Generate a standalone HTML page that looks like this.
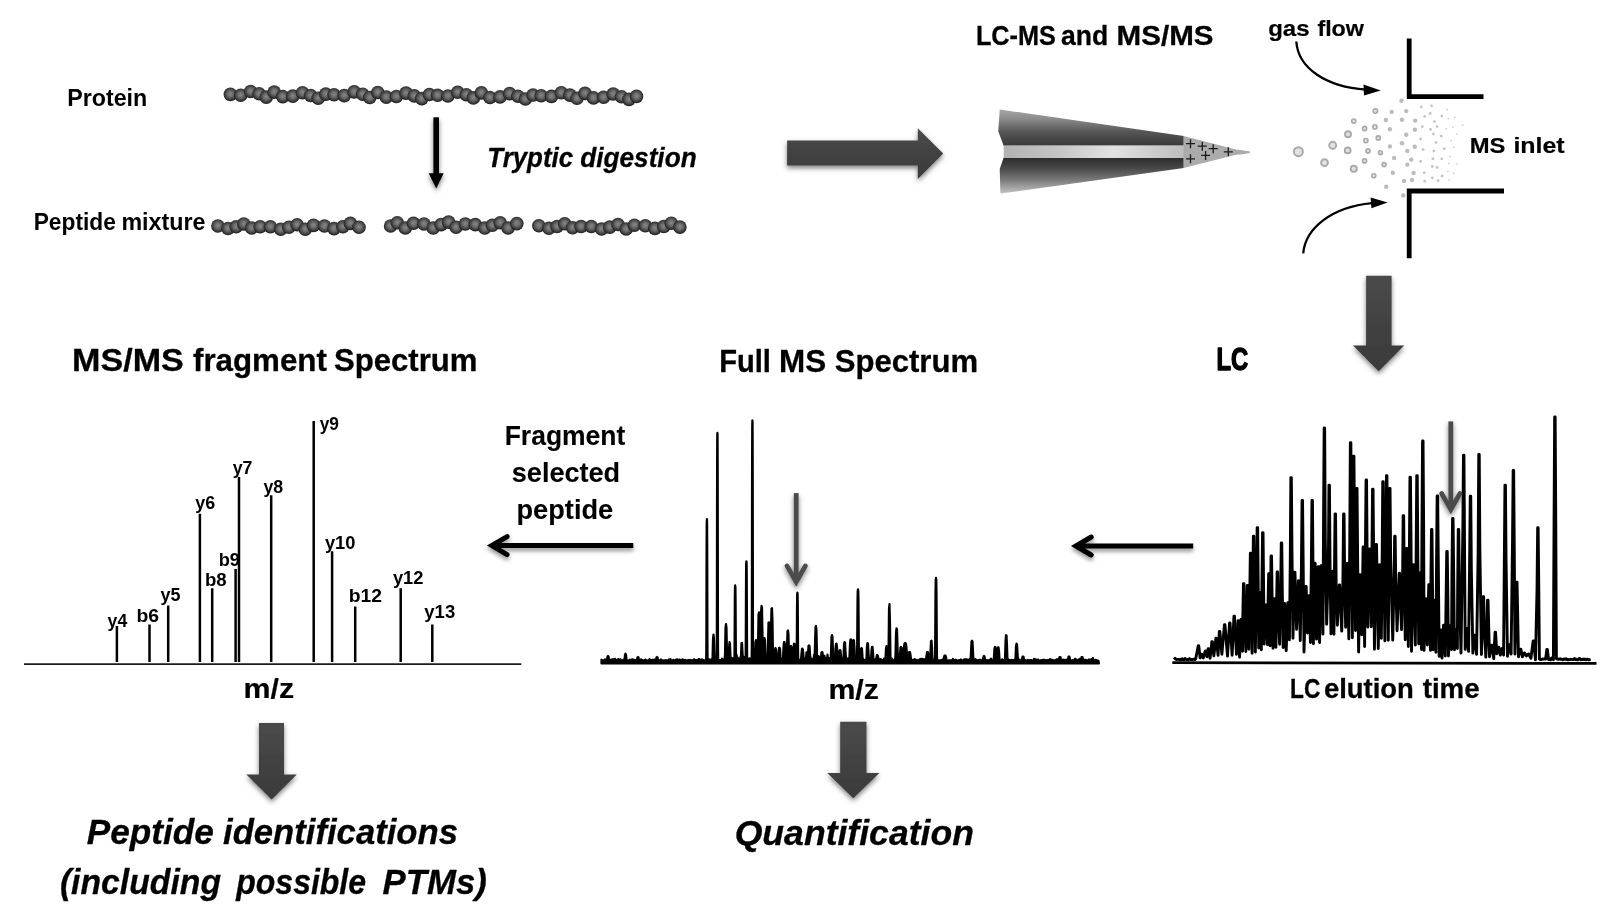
<!DOCTYPE html>
<html lang="en"><head><meta charset="utf-8"><title>LC-MS/MS proteomics workflow</title>
<style>html,body{margin:0;padding:0;background:#fff;overflow:hidden}svg{display:block;will-change:transform}text{font-family:"Liberation Sans",sans-serif}</style></head>
<body>
<svg width="1609" height="911" viewBox="0 0 1609 911">
<rect width="1609" height="911" fill="#fff"/>
<defs>
<filter id="sh" x="-30%" y="-30%" width="160%" height="170%"><feDropShadow dx="0" dy="2.6" stdDeviation="2.5" flood-color="#000" flood-opacity="0.5"/></filter>
<filter id="sh2" x="-30%" y="-60%" width="160%" height="260%"><feDropShadow dx="0" dy="3" stdDeviation="2" flood-color="#000" flood-opacity="0.42"/></filter>
<filter id="fz" x="-10%" y="-40%" width="120%" height="180%"><feGaussianBlur stdDeviation="0.55"/></filter>
<linearGradient id="ga" x1="0" y1="0" x2="0" y2="1"><stop offset="0" stop-color="#4a4a4a"/><stop offset="1" stop-color="#3a3a3a"/></linearGradient>
<linearGradient id="gb" x1="0" y1="0" x2="1" y2="0"><stop offset="0" stop-color="#3c3c3c"/><stop offset="0.5" stop-color="#454545"/><stop offset="1" stop-color="#3c3c3c"/></linearGradient>
<radialGradient id="bead" cx="0.5" cy="0.47" r="0.53"><stop offset="0" stop-color="#888"/><stop offset="0.4" stop-color="#6a6a6a"/><stop offset="0.74" stop-color="#414141"/><stop offset="1" stop-color="#181818"/></radialGradient>
<linearGradient id="nt" gradientUnits="userSpaceOnUse" x1="0" y1="109" x2="0" y2="146"><stop offset="0" stop-color="#a8a8a8"/><stop offset="0.3" stop-color="#878787"/><stop offset="0.62" stop-color="#565656"/><stop offset="1" stop-color="#383838"/></linearGradient>
<linearGradient id="nb" gradientUnits="userSpaceOnUse" x1="0" y1="158" x2="0" y2="194"><stop offset="0" stop-color="#2c2c2c"/><stop offset="0.3" stop-color="#4a4a4a"/><stop offset="0.62" stop-color="#7c7c7c"/><stop offset="1" stop-color="#c6c6c6"/></linearGradient>
<linearGradient id="nc" gradientUnits="userSpaceOnUse" x1="1003" y1="0" x2="1186" y2="0"><stop offset="0" stop-color="#b2b2b2"/><stop offset="0.3" stop-color="#c4c4c4"/><stop offset="0.6" stop-color="#e2e2e2"/><stop offset="1" stop-color="#bcbcbc"/></linearGradient>
</defs>
<text y="105.5" font-size="23" font-weight="bold" fill="#000"><tspan x="67.2" textLength="80" lengthAdjust="spacingAndGlyphs">Protein</tspan></text>
<text y="230.3" font-size="23" font-weight="bold" fill="#000"><tspan x="33.7" textLength="82.2" lengthAdjust="spacingAndGlyphs">Peptide</tspan> <tspan x="121.4" textLength="84" lengthAdjust="spacingAndGlyphs">mixture</tspan></text>
<text y="167.1" font-size="27.2" font-weight="bold" font-style="italic" stroke="#000" stroke-width="0.3" stroke-linejoin="round" fill="#000"><tspan x="487.3" textLength="85.8" lengthAdjust="spacingAndGlyphs">Tryptic</tspan> <tspan x="580.2" textLength="116.5" lengthAdjust="spacingAndGlyphs">digestion</tspan></text>
<text y="45.3" font-size="27.3" font-weight="bold" stroke="#000" stroke-width="0.3" stroke-linejoin="round" fill="#000"><tspan x="975.9" textLength="80" lengthAdjust="spacingAndGlyphs">LC-MS</tspan> <tspan x="1061.1" textLength="47.2" lengthAdjust="spacingAndGlyphs">and</tspan> <tspan x="1116.6" textLength="96.9" lengthAdjust="spacingAndGlyphs">MS/MS</tspan></text>
<text y="36.4" font-size="22.8" font-weight="bold" stroke="#000" stroke-width="0.2" stroke-linejoin="round" fill="#000"><tspan x="1268.2" textLength="41.4" lengthAdjust="spacingAndGlyphs">gas</tspan> <tspan x="1317.4" textLength="46.6" lengthAdjust="spacingAndGlyphs">flow</tspan></text>
<text y="152.6" font-size="22.6" font-weight="bold" stroke="#000" stroke-width="0.2" stroke-linejoin="round" fill="#000"><tspan x="1469.7" textLength="35.7" lengthAdjust="spacingAndGlyphs">MS</tspan> <tspan x="1513.4" textLength="51.3" lengthAdjust="spacingAndGlyphs">inlet</tspan></text>
<text y="370.8" font-size="31" font-weight="bold" stroke="#000" stroke-width="0.3" stroke-linejoin="round" fill="#000"><tspan x="72.1" textLength="111.7" lengthAdjust="spacingAndGlyphs">MS/MS</tspan> <tspan x="193" textLength="133.9" lengthAdjust="spacingAndGlyphs">fragment</tspan> <tspan x="334" textLength="143.4" lengthAdjust="spacingAndGlyphs">Spectrum</tspan></text>
<text y="371.9" font-size="32" font-weight="bold" stroke="#000" stroke-width="0.3" stroke-linejoin="round" fill="#000"><tspan x="719.2" textLength="51.7" lengthAdjust="spacingAndGlyphs">Full</tspan> <tspan x="779" textLength="47.1" lengthAdjust="spacingAndGlyphs">MS</tspan> <tspan x="834.7" textLength="143.4" lengthAdjust="spacingAndGlyphs">Spectrum</tspan></text>
<text y="370.3" font-size="30.8" font-weight="bold" stroke="#000" stroke-width="1.4" stroke-linejoin="round" fill="#000"><tspan x="1216.5" textLength="31.7" lengthAdjust="spacingAndGlyphs">LC</tspan></text>
<text y="445" font-size="27.3" font-weight="bold" stroke="#000" stroke-width="0.1" stroke-linejoin="round" fill="#000"><tspan x="504.7" textLength="120.6" lengthAdjust="spacingAndGlyphs">Fragment</tspan></text>
<text y="482.3" font-size="27.3" font-weight="bold" stroke="#000" stroke-width="0.1" stroke-linejoin="round" fill="#000"><tspan x="511.8" textLength="108.3" lengthAdjust="spacingAndGlyphs">selected</tspan></text>
<text y="519.3" font-size="27.3" font-weight="bold" stroke="#000" stroke-width="0.1" stroke-linejoin="round" fill="#000"><tspan x="516.5" textLength="96.7" lengthAdjust="spacingAndGlyphs">peptide</tspan></text>
<text y="698.4" font-size="27.6" font-weight="bold" stroke="#000" stroke-width="0.2" stroke-linejoin="round" fill="#000"><tspan x="243.5" textLength="50.6" lengthAdjust="spacingAndGlyphs">m/z</tspan></text>
<text y="698.5" font-size="27.6" font-weight="bold" stroke="#000" stroke-width="0.2" stroke-linejoin="round" fill="#000"><tspan x="828.4" textLength="50.5" lengthAdjust="spacingAndGlyphs">m/z</tspan></text>
<text y="698.2" font-size="28" font-weight="bold" stroke="#000" stroke-width="0.3" stroke-linejoin="round" fill="#000"><tspan x="1290" textLength="30.3" lengthAdjust="spacingAndGlyphs">LC</tspan> <tspan x="1323.9" textLength="89.9" lengthAdjust="spacingAndGlyphs">elution</tspan> <tspan x="1422.7" textLength="57" lengthAdjust="spacingAndGlyphs">time</tspan></text>
<text y="844.2" font-size="34.3" font-weight="bold" font-style="italic" stroke="#000" stroke-width="0.3" stroke-linejoin="round" fill="#000"><tspan x="86.7" textLength="127.2" lengthAdjust="spacingAndGlyphs">Peptide</tspan> <tspan x="223" textLength="235" lengthAdjust="spacingAndGlyphs">identifications</tspan></text>
<text y="894" font-size="34.3" font-weight="bold" font-style="italic" stroke="#000" stroke-width="0.3" stroke-linejoin="round" fill="#000"><tspan x="59.9" textLength="161.1" lengthAdjust="spacingAndGlyphs">(including</tspan> <tspan x="236.3" textLength="129.7" lengthAdjust="spacingAndGlyphs">possible</tspan> <tspan x="382.6" textLength="104.2" lengthAdjust="spacingAndGlyphs">PTMs)</tspan></text>
<text y="845" font-size="35.4" font-weight="bold" font-style="italic" stroke="#000" stroke-width="0.3" stroke-linejoin="round" fill="#000"><tspan x="734.7" textLength="239.2" lengthAdjust="spacingAndGlyphs">Quantification</tspan></text>
<line x1="24" y1="664.05" x2="521.3" y2="664.05" stroke="#1c1c1c" stroke-width="1.7"/>
<path d="M116.9 661.9V626M149.5 661.9V624.4M168.2 661.9V605.4M199.9 661.9V513.8M212.2 661.9V588.2M235.6 661.9V569.1M239 661.9V476.9M271.2 661.9V495.3M313.7 661.9V420.9M332.1 661.9V551.3M355.2 661.9V606.6M400.7 661.9V588.2M432.3 661.9V624.4" stroke="#000" stroke-width="2.5" fill="none"/>
<text y="627" font-size="19" font-weight="bold" fill="#000"><tspan x="107.6" textLength="19.6" lengthAdjust="spacingAndGlyphs">y4</tspan></text>
<text y="622.4" font-size="19" font-weight="bold" fill="#000"><tspan x="136.5" textLength="22.6" lengthAdjust="spacingAndGlyphs">b6</tspan></text>
<text y="600.9" font-size="19" font-weight="bold" fill="#000"><tspan x="160.5" textLength="20" lengthAdjust="spacingAndGlyphs">y5</tspan></text>
<text y="508.6" font-size="19" font-weight="bold" fill="#000"><tspan x="195.2" textLength="19.9" lengthAdjust="spacingAndGlyphs">y6</tspan></text>
<text y="585.5" font-size="19" font-weight="bold" fill="#000"><tspan x="204.9" textLength="21.7" lengthAdjust="spacingAndGlyphs">b8</tspan></text>
<text y="565.5" font-size="19" font-weight="bold" fill="#000"><tspan x="218.7" textLength="21.3" lengthAdjust="spacingAndGlyphs">b9</tspan></text>
<text y="474.2" font-size="19" font-weight="bold" fill="#000"><tspan x="232.7" textLength="19.7" lengthAdjust="spacingAndGlyphs">y7</tspan></text>
<text y="493.3" font-size="19" font-weight="bold" fill="#000"><tspan x="263.5" textLength="19.7" lengthAdjust="spacingAndGlyphs">y8</tspan></text>
<text y="430.2" font-size="19" font-weight="bold" fill="#000"><tspan x="319.7" textLength="19.3" lengthAdjust="spacingAndGlyphs">y9</tspan></text>
<text y="549.2" font-size="19" font-weight="bold" fill="#000"><tspan x="324.9" textLength="30.5" lengthAdjust="spacingAndGlyphs">y10</tspan></text>
<text y="602.4" font-size="19" font-weight="bold" fill="#000"><tspan x="348.7" textLength="33.3" lengthAdjust="spacingAndGlyphs">b12</tspan></text>
<text y="584" font-size="19" font-weight="bold" fill="#000"><tspan x="392.9" textLength="30.6" lengthAdjust="spacingAndGlyphs">y12</tspan></text>
<text y="618.4" font-size="19" font-weight="bold" fill="#000"><tspan x="424.3" textLength="30.9" lengthAdjust="spacingAndGlyphs">y13</tspan></text>
<path filter="url(#sh)" fill="url(#ga)" d="M259 722.9H284V774.5H296.8L271.6 799.6L246.4 774.5H259Z"/>
<path filter="url(#sh)" fill="url(#ga)" d="M840.2 721.8H866.5V773H879.4L853.3 798.3L827.3 773H840.2Z"/>
<path filter="url(#sh)" fill="url(#ga)" d="M1366.1 275.7H1391.6V345.5H1404.3L1378.7 371.2L1353 345.5H1366.1Z"/>
<path filter="url(#sh)" fill="url(#ga)" d="M787.1 140.6H917.8V128.3L943.2 153.6L917.8 179V165.6H787.1Z"/>
<g filter="url(#sh)"><path d="M436.2 117.3V176" stroke="#000" stroke-width="5.6" fill="none"/><path d="M428.7 173.2H443.7L436.2 188.6Z" fill="#000"/></g>
<g filter="url(#sh2)" stroke="#000" stroke-width="5" fill="none" stroke-linecap="round" stroke-linejoin="miter"><path d="M633.3 545.6H492.6" stroke-linecap="butt"/><path d="M507.1 536.6L491.8 545.6L507.1 554.6"/></g>
<g filter="url(#sh2)" stroke="#000" stroke-width="5" fill="none" stroke-linecap="round" stroke-linejoin="miter"><path d="M1193.2 546H1076.7" stroke-linecap="butt"/><path d="M1091.2 537L1075.9 546L1091.2 555"/></g>
<path d="M1409.2 38.5V96.7H1483.5M1504 191H1409.2V258.2" stroke="#000" stroke-width="4.8" fill="none"/>
<path d="M1296.3 41.5C1298 68 1326 87 1366 89.6" stroke="#000" stroke-width="2.3" fill="none"/>
<path d="M1380.8 90.4L1363.5 84.6L1364 95.4Z" fill="#000"/>
<path d="M1303.2 253.4C1305.5 228 1332 207 1372 203.2" stroke="#000" stroke-width="2.3" fill="none"/>
<path d="M1387.6 202.4L1370.6 197.4L1371.4 208.2Z" fill="#000"/>
<g filter="url(#fz)"><circle cx="230.4" cy="94.4" r="6.8" fill="url(#bead)"/><circle cx="240.7" cy="95.2" r="6.8" fill="url(#bead)"/><circle cx="250.6" cy="91.5" r="6.8" fill="url(#bead)"/><circle cx="259.1" cy="93.8" r="6.8" fill="url(#bead)"/><circle cx="266.3" cy="97.1" r="6.8" fill="url(#bead)"/><circle cx="274.2" cy="92.1" r="6.8" fill="url(#bead)"/><circle cx="282.7" cy="96.6" r="6.8" fill="url(#bead)"/><circle cx="292.8" cy="96.1" r="6.8" fill="url(#bead)"/><circle cx="302.5" cy="92.7" r="6.8" fill="url(#bead)"/><circle cx="310.7" cy="95.5" r="6.8" fill="url(#bead)"/><circle cx="318.2" cy="98.2" r="6.8" fill="url(#bead)"/><circle cx="325.8" cy="94.1" r="6.8" fill="url(#bead)"/><circle cx="334" cy="94.8" r="6.8" fill="url(#bead)"/><circle cx="344.3" cy="95.6" r="6.8" fill="url(#bead)"/><circle cx="354.2" cy="91.9" r="6.8" fill="url(#bead)"/><circle cx="362.7" cy="94.3" r="6.8" fill="url(#bead)"/><circle cx="369.8" cy="97.5" r="6.8" fill="url(#bead)"/><circle cx="377.8" cy="92.5" r="6.8" fill="url(#bead)"/><circle cx="386.3" cy="97.1" r="6.8" fill="url(#bead)"/><circle cx="396.4" cy="96.5" r="6.8" fill="url(#bead)"/><circle cx="406" cy="93.1" r="6.8" fill="url(#bead)"/><circle cx="414.3" cy="95.9" r="6.8" fill="url(#bead)"/><circle cx="421.8" cy="98.6" r="6.8" fill="url(#bead)"/><circle cx="429.4" cy="94.5" r="6.8" fill="url(#bead)"/><circle cx="437.6" cy="95.3" r="6.8" fill="url(#bead)"/><circle cx="447.9" cy="96" r="6.8" fill="url(#bead)"/><circle cx="457.7" cy="92.3" r="6.8" fill="url(#bead)"/><circle cx="466.3" cy="94.7" r="6.8" fill="url(#bead)"/><circle cx="473.4" cy="97.9" r="6.8" fill="url(#bead)"/><circle cx="481.4" cy="92.9" r="6.8" fill="url(#bead)"/><circle cx="489.9" cy="97.5" r="6.8" fill="url(#bead)"/><circle cx="500" cy="96.9" r="6.8" fill="url(#bead)"/><circle cx="509.6" cy="93.6" r="6.8" fill="url(#bead)"/><circle cx="517.9" cy="96.3" r="6.8" fill="url(#bead)"/><circle cx="525.4" cy="99" r="6.8" fill="url(#bead)"/><circle cx="533" cy="95" r="6.8" fill="url(#bead)"/><circle cx="541.2" cy="95.7" r="6.8" fill="url(#bead)"/><circle cx="551.5" cy="96.4" r="6.8" fill="url(#bead)"/><circle cx="561.3" cy="92.8" r="6.8" fill="url(#bead)"/><circle cx="569.9" cy="95.1" r="6.8" fill="url(#bead)"/><circle cx="577" cy="98.3" r="6.8" fill="url(#bead)"/><circle cx="585" cy="93.4" r="6.8" fill="url(#bead)"/><circle cx="593.5" cy="97.9" r="6.8" fill="url(#bead)"/><circle cx="603.6" cy="97.3" r="6.8" fill="url(#bead)"/><circle cx="613.2" cy="94" r="6.8" fill="url(#bead)"/><circle cx="621.5" cy="96.7" r="6.8" fill="url(#bead)"/><circle cx="629" cy="99.4" r="6.8" fill="url(#bead)"/><circle cx="636.5" cy="96.4" r="6.8" fill="url(#bead)"/></g>
<g filter="url(#fz)"><circle cx="217.9" cy="226" r="6.8" fill="url(#bead)"/><circle cx="228" cy="228.5" r="6.8" fill="url(#bead)"/><circle cx="236.2" cy="226.7" r="6.8" fill="url(#bead)"/><circle cx="243.8" cy="224" r="6.8" fill="url(#bead)"/><circle cx="251.7" cy="228" r="6.8" fill="url(#bead)"/><circle cx="260.2" cy="226.7" r="6.8" fill="url(#bead)"/><circle cx="270.4" cy="226.7" r="6.8" fill="url(#bead)"/><circle cx="280.7" cy="229.2" r="6.8" fill="url(#bead)"/><circle cx="288.9" cy="227.3" r="6.8" fill="url(#bead)"/><circle cx="297.1" cy="224.7" r="6.8" fill="url(#bead)"/><circle cx="305.3" cy="229.2" r="6.8" fill="url(#bead)"/><circle cx="313.5" cy="225.4" r="6.8" fill="url(#bead)"/><circle cx="324.4" cy="226" r="6.8" fill="url(#bead)"/><circle cx="334" cy="228.6" r="6.8" fill="url(#bead)"/><circle cx="342.9" cy="226.7" r="6.8" fill="url(#bead)"/><circle cx="350.4" cy="223.4" r="6.8" fill="url(#bead)"/><circle cx="359" cy="227.3" r="6.8" fill="url(#bead)"/></g>
<g filter="url(#fz)"><circle cx="390.6" cy="226" r="6.8" fill="url(#bead)"/><circle cx="397.3" cy="222.8" r="6.8" fill="url(#bead)"/><circle cx="405.3" cy="228" r="6.8" fill="url(#bead)"/><circle cx="413.5" cy="223.3" r="6.8" fill="url(#bead)"/><circle cx="424" cy="224" r="6.8" fill="url(#bead)"/><circle cx="433.2" cy="228" r="6.8" fill="url(#bead)"/><circle cx="441.1" cy="224.6" r="6.8" fill="url(#bead)"/><circle cx="448.6" cy="222.1" r="6.8" fill="url(#bead)"/><circle cx="456.1" cy="227.3" r="6.8" fill="url(#bead)"/><circle cx="465.3" cy="224" r="6.8" fill="url(#bead)"/><circle cx="475.3" cy="224.6" r="6.8" fill="url(#bead)"/><circle cx="484.8" cy="228" r="6.8" fill="url(#bead)"/><circle cx="492.4" cy="225.3" r="6.8" fill="url(#bead)"/><circle cx="500.2" cy="222.7" r="6.8" fill="url(#bead)"/><circle cx="508.1" cy="228" r="6.8" fill="url(#bead)"/><circle cx="516.8" cy="223.6" r="6.8" fill="url(#bead)"/></g>
<g filter="url(#fz)"><circle cx="538.8" cy="225.8" r="6.8" fill="url(#bead)"/><circle cx="548.9" cy="228.3" r="6.8" fill="url(#bead)"/><circle cx="557.1" cy="226.5" r="6.8" fill="url(#bead)"/><circle cx="564.7" cy="223.8" r="6.8" fill="url(#bead)"/><circle cx="572.6" cy="227.8" r="6.8" fill="url(#bead)"/><circle cx="581.1" cy="226.5" r="6.8" fill="url(#bead)"/><circle cx="591.3" cy="226.5" r="6.8" fill="url(#bead)"/><circle cx="601.6" cy="229" r="6.8" fill="url(#bead)"/><circle cx="609.8" cy="227.1" r="6.8" fill="url(#bead)"/><circle cx="618" cy="224.5" r="6.8" fill="url(#bead)"/><circle cx="626.2" cy="229" r="6.8" fill="url(#bead)"/><circle cx="634.4" cy="225.2" r="6.8" fill="url(#bead)"/><circle cx="645.3" cy="225.8" r="6.8" fill="url(#bead)"/><circle cx="654.9" cy="228.4" r="6.8" fill="url(#bead)"/><circle cx="663.8" cy="226.5" r="6.8" fill="url(#bead)"/><circle cx="671.3" cy="223.2" r="6.8" fill="url(#bead)"/><circle cx="679.9" cy="227.1" r="6.8" fill="url(#bead)"/></g>
<path d="M999.7 109.5L1183.8 136.1V145.8H1003.7L998.3 131.5Z" fill="url(#nt)"/>
<path d="M1003.7 157.6H1183.8V168L1000.4 193.6L999.7 169Z" fill="url(#nb)"/>
<path d="M1003.7 145.4H1184V158H1003.7Z" fill="url(#nc)"/>
<path d="M1183.6 136.1L1236 149.6Q1251 151.2 1250.4 152.3Q1251 153.6 1236 154.8L1183.6 168Z" fill="#ababab"/>
<path d="M1186 143.7h9M1190.5 139.2v9M1197.8 146.2h9M1202.3 141.7v9M1208.7 148.7h9M1213.2 144.2v9M1223.8 151.8h9M1228.3 147.3v9M1201.1 155.4h9M1205.6 150.9v9M1186 158.8h9M1190.5 154.3v9" stroke="#1a1a1a" stroke-width="1.3" fill="none"/>
<circle cx="1298.4" cy="151.7" r="4.5" fill="#e2e2e2" stroke="#a9a9a9" stroke-width="1.9"/>
<circle cx="1332.7" cy="145.3" r="3.5" fill="#e2e2e2" stroke="#a9a9a9" stroke-width="1.9"/>
<circle cx="1324.5" cy="162.7" r="3.4" fill="#e2e2e2" stroke="#a9a9a9" stroke-width="1.9"/>
<circle cx="1348" cy="134.3" r="3" fill="#e2e2e2" stroke="#a9a9a9" stroke-width="1.9"/>
<circle cx="1347.7" cy="150.4" r="2.9" fill="#e2e2e2" stroke="#a9a9a9" stroke-width="1.9"/>
<circle cx="1353.8" cy="168.8" r="3.1" fill="#e2e2e2" stroke="#a9a9a9" stroke-width="1.9"/>
<circle cx="1353.8" cy="121.1" r="2.1" fill="#e2e2e2" stroke="#a9a9a9" stroke-width="1.6"/>
<circle cx="1364.6" cy="128.5" r="2.1" fill="#e2e2e2" stroke="#a9a9a9" stroke-width="1.6"/>
<circle cx="1365.9" cy="140.6" r="2.1" fill="#e2e2e2" stroke="#a9a9a9" stroke-width="1.6"/>
<circle cx="1368" cy="150.9" r="2" fill="#e2e2e2" stroke="#a9a9a9" stroke-width="1.6"/>
<circle cx="1364.6" cy="160.9" r="2" fill="#e2e2e2" stroke="#a9a9a9" stroke-width="1.6"/>
<circle cx="1373.8" cy="175.7" r="2" fill="#e2e2e2" stroke="#a9a9a9" stroke-width="1.6"/>
<circle cx="1375.4" cy="111.1" r="2.2" fill="#e2e2e2" stroke="#a9a9a9" stroke-width="1.6"/>
<circle cx="1374.9" cy="126.9" r="2.1" fill="#e2e2e2" stroke="#a9a9a9" stroke-width="1.6"/>
<circle cx="1378.3" cy="138" r="2.1" fill="#e2e2e2" stroke="#a9a9a9" stroke-width="1.6"/>
<circle cx="1380.4" cy="152.7" r="1.9" fill="#e2e2e2" stroke="#a9a9a9" stroke-width="1.6"/>
<circle cx="1384.1" cy="164.6" r="2" fill="#e2e2e2" stroke="#a9a9a9" stroke-width="1.6"/>
<g fill="#bcbcbc"><circle cx="1391.7" cy="111.9" r="2.2"/><circle cx="1385.9" cy="120" r="2.2"/><circle cx="1389.9" cy="129.3" r="2.2"/><circle cx="1389.9" cy="146.4" r="2.2"/><circle cx="1394.1" cy="158" r="2.2"/><circle cx="1392.8" cy="172.8" r="2.2"/><circle cx="1386.2" cy="186.7" r="2.2"/><circle cx="1401.5" cy="100.8" r="2.2"/><circle cx="1406.2" cy="111.1" r="2.2"/><circle cx="1402" cy="119.8" r="2.2"/><circle cx="1406.2" cy="134.8" r="2.2"/><circle cx="1402" cy="143.2" r="2.2"/><circle cx="1407.3" cy="150.9" r="2.2"/><circle cx="1411.2" cy="159.6" r="2.2"/><circle cx="1407.3" cy="164.6" r="2.2"/><circle cx="1413.6" cy="173" r="2.2"/><circle cx="1412" cy="179.9" r="2.2"/><circle cx="1404.1" cy="180.9" r="2.2"/><circle cx="1403.3" cy="195.4" r="2.2"/><circle cx="1415.2" cy="120.6" r="2.2"/><circle cx="1414.9" cy="129.8" r="2.2"/><circle cx="1414.7" cy="146.7" r="2.2"/></g>
<g fill="#c4c4c4"><circle cx="1421.3" cy="106.9" r="1.4"/><circle cx="1431.5" cy="105.8" r="1.4"/><circle cx="1424.7" cy="116.4" r="1.4"/><circle cx="1430.2" cy="113.5" r="1.4"/><circle cx="1422.3" cy="126.6" r="1.4"/><circle cx="1420.7" cy="139" r="1.4"/><circle cx="1423.1" cy="149.6" r="1.4"/><circle cx="1420.7" cy="161.4" r="1.4"/><circle cx="1424.2" cy="172.8" r="1.4"/><circle cx="1424.7" cy="181.2" r="1.4"/><circle cx="1430.5" cy="129.5" r="1.4"/><circle cx="1434.4" cy="121.6" r="1.4"/><circle cx="1433.4" cy="134" r="1.4"/><circle cx="1436" cy="142.4" r="1.4"/><circle cx="1433.9" cy="151.1" r="1.4"/><circle cx="1432.9" cy="158.8" r="1.4"/><circle cx="1432.3" cy="166.4" r="1.4"/><circle cx="1432.3" cy="177.8" r="1.4"/><circle cx="1441.8" cy="116.1" r="1.4"/><circle cx="1437.1" cy="126.6" r="1.4"/><circle cx="1441.3" cy="136.1" r="1.4"/><circle cx="1444.2" cy="148.8" r="1.4"/><circle cx="1441.8" cy="158.8" r="1.4"/><circle cx="1437.1" cy="167.5" r="1.4"/><circle cx="1442.1" cy="175.9" r="1.4"/><circle cx="1438.1" cy="180.7" r="1.4"/></g>
<g fill="#d6d6d6"><circle cx="1447.1" cy="109.8" r="1"/><circle cx="1448.4" cy="118.7" r="1"/><circle cx="1454.7" cy="117.4" r="1"/><circle cx="1446.3" cy="128.7" r="1"/><circle cx="1452.9" cy="126.9" r="1"/><circle cx="1462.6" cy="125.3" r="1"/><circle cx="1456.8" cy="134" r="1"/><circle cx="1451" cy="140.6" r="1"/><circle cx="1453.7" cy="147.2" r="1"/><circle cx="1450" cy="156.7" r="1"/><circle cx="1448.9" cy="163.5" r="1"/><circle cx="1456.6" cy="164.3" r="1"/><circle cx="1447.9" cy="171.4" r="1"/><circle cx="1453.7" cy="173.3" r="1"/><circle cx="1449.2" cy="180.1" r="1"/></g>
<polygon points="601.5,663.4 601.5,659.5 602,660.6 602.5,661 603,660.6 603.5,660.3 604,661 604.5,661 605,659.4 605.5,660.1 606,660.5 606.5,660.4 607,660.2 607.5,656.5 608,656 608.5,656.5 609,659.7 609.5,660.5 610,660.9 610.5,660.8 611,659.6 611.5,659.5 612,660.9 612.5,660.7 613,659.2 613.5,661 614,659.7 614.5,660.6 615,658.9 615.5,660.1 616,660.6 616.5,660.3 617,660 617.5,659.5 618,660.5 618.5,659.1 619,660.4 619.5,659.9 620,659.7 620.5,659.4 621,660.7 621.5,660.2 622,660.8 622.5,660.5 623,660.3 623.5,659.5 624,659.4 624.5,660.7 625,654.9 625.5,653.6 626,654.9 626.5,659.3 627,660.8 627.5,660.9 628,660.8 628.5,660.9 629,660.7 629.5,659.7 630,660.5 630.5,660.9 631,659.9 631.5,660.7 632,659.3 632.5,660.9 633,659.5 633.5,660.7 634,660.2 634.5,659.9 635,660.1 635.5,660.7 636,659.9 636.5,659.7 637,660.4 637.5,657.4 638,657 638.5,657.4 639,660.4 639.5,660.7 640,660.3 640.5,660.8 641,659.4 641.5,660.4 642,660.2 642.5,660.6 643,660.2 643.5,660.8 644,660.5 644.5,660.7 645,659.8 645.5,659.6 646,660.4 646.5,660.5 647,660.4 647.5,661 648,660.9 648.5,660.4 649,660.9 649.5,659 650,660.2 650.5,660.7 651,660.6 651.5,660.2 652,660.7 652.5,660.6 653,659.7 653.5,660.6 654,660.5 654.5,659.7 655,660.9 655.5,659.5 656,660.4 656.5,657.4 657,657 657.5,657.4 658,660.4 658.5,659.9 659,660.8 659.5,661 660,660.6 660.5,660.4 661,659.4 661.5,660.6 662,660.2 662.5,660.4 663,660.9 663.5,660.9 664,660.3 664.5,660.6 665,660.7 665.5,660.1 666,660.7 666.5,660.4 667,660.7 667.5,660.5 668,660.8 668.5,660 669,659.4 669.5,660.9 670,659.8 670.5,659.2 671,660.7 671.5,660.4 672,660.6 672.5,660.5 673,660 673.5,659.9 674,660.5 674.5,660.8 675,660.3 675.5,660.7 676,659.6 676.5,661 677,659.4 677.5,660.8 678,660.4 678.5,660 679,659.5 679.5,659.6 680,660.3 680.5,659.9 681,660.1 681.5,660.2 682,660.6 682.5,659.3 683,659.7 683.5,660.6 684,660 684.5,660.4 685,660.5 685.5,660 686,660.3 686.5,660.3 687,660.8 687.5,660.9 688,660.1 688.5,660.2 689,660.9 689.5,660.1 690,660.5 690.5,659.8 691,660.4 691.5,660.6 692,660.7 692.5,660.7 693,659.9 693.5,660.9 694,659.3 694.5,659.8 695,660.3 695.5,660.8 696,660 696.5,660.8 697,660.3 697.5,660 698,660.3 698.5,659.2 699,659.1 699.5,659.3 700,660.4 700.5,660.2 701,660.9 701.5,659.5 702,660.1 702.5,659.7 703,659.8 703.5,660.7 704,660.3 704.5,660.4 705,660.3 705.5,660.6 706,660.6 706.14,660 706.29,651.4 706.39,624.8 706.46,591.9 706.5,575.4 706.52,567 706.6,541.2 706.71,522.8 706.9,519.2 707,519.5 707.09,522.8 707.2,541.2 707.28,567 707.34,591.9 707.41,624.8 707.5,650 707.51,651.4 707.66,660.3 708,661 708.5,659.3 709,659.3 709.5,660.5 710,659.7 710.5,660.9 711,660.6 711.5,659.4 712,660 712.5,659.9 713,639.3 713.5,634.5 714,639.3 714.5,659.3 715,659.9 715.5,660.6 716,660.3 716.5,659.8 716.64,659.2 716.79,645.6 716.89,602.8 716.96,549.9 717,523.3 717.02,509.8 717.1,468.3 717.21,438.7 717.4,432.9 717.5,433.3 717.59,438.7 717.7,468.3 717.78,509.8 717.84,549.9 717.91,602.8 718,643.3 718.01,645.6 718.16,659 718.5,659.7 719,660.1 719.5,660.5 720,660.2 720.5,660.1 721,660.4 721.5,661 722,658.6 722.5,660.6 723,659.4 723.5,660.5 724,660.2 724.5,660.5 725,655.2 725.5,628.1 726,624 726.5,628.1 727,655.2 727.5,659.4 728,659.9 728.5,659.1 729,648.4 729.5,642 730,643.5 730.5,657.8 731,658.5 731.5,657.6 732,661 732.5,658.3 733,660.1 733.5,660.6 734,660.1 734.3,658.9 734.48,655.9 734.5,654.2 734.59,641.7 734.68,624.2 734.75,610.9 734.84,597.1 734.98,587.3 735,586.6 735.2,585.4 735.43,587.3 735.5,591.3 735.56,597.1 735.65,610.9 735.72,624.2 735.81,641.7 735.92,655.9 736,659.8 736.1,659.9 736.5,654.5 737,658.4 737.5,657.4 738,658.1 738.5,660.4 739,660.4 739.5,660.8 740,660.2 740.5,656.9 741,656 741.5,643.2 742,642.8 742.5,652.5 743,658.5 743.5,660.8 744,660.8 744.5,657.1 745,660.4 745.5,659.8 745.5,659.3 745.68,654.3 745.79,635.6 745.88,612.5 745.95,595 746,584 746.04,576.8 746.17,563.9 746.4,561.4 746.5,561.5 746.62,563.9 746.76,576.8 746.85,595 746.92,612.5 747,633.9 747.01,635.6 747.12,654.3 747.3,659.2 747.5,660.8 748,658.9 748.5,660.9 749,660.9 749.5,658.4 750,660.9 750.5,660.8 751,660.3 751.5,660.3 751.64,659.8 751.79,644.8 751.89,599.6 751.96,543.8 752,515.8 752.02,501.5 752.1,457.7 752.21,426.5 752.4,420.4 752.5,420.9 752.59,426.5 752.7,457.7 752.78,501.5 752.84,543.8 752.91,599.6 753,642.3 753.01,644.8 753.16,660.7 753.5,660.5 754,660.2 754.5,661 755,657.7 755.5,642.3 756,640 756.5,642.3 757,657.7 757.5,660.8 758,646.7 758.5,614.7 759,612.4 759.5,622.8 760,657.8 760.5,650.9 761,613.5 761.5,605.8 762,607.4 762.5,635.2 763,659.6 763.5,657.4 764,640.5 764.5,638 765,640.5 765.5,657.4 766,660.9 766.5,659.5 767,659.8 767.5,660.4 768,642.9 768.5,622.9 769,622.4 769.5,636.2 770,656 770.5,659.1 771,628.1 771.5,608.6 772,608.2 772.5,621 773,656.2 773.5,653.9 774,657.1 774.5,658.5 775,649.4 775.5,648 776,649.4 776.5,658.9 777,656.7 777.5,659.8 778,660.3 778.5,652.9 779,647.9 779.5,647.6 780,648.9 780.5,656.6 781,660.6 781.5,659.3 782,660.5 782.5,660.7 783,658.8 783.5,647.1 784,642.1 784.5,642 785,645.2 785.5,657.1 786,659.5 786.5,660.4 787,646.8 787.5,631.4 788,630.5 788.5,634.8 789,655.4 789.5,655.2 790,656.3 790.5,647.1 791,646 791.5,647.1 792,653.9 792.5,658.5 793,659.4 793.5,647.9 794,643.7 794.5,643.9 795,650.2 795.5,660 796,660.3 796.5,660 796.5,657.1 796.68,656.4 796.79,643.6 796.88,627.7 796.95,615.7 797,608.2 797.04,603.3 797.17,594.4 797.4,592.7 797.5,592.8 797.62,594.4 797.76,603.3 797.85,615.7 797.92,627.7 798,642.4 798.01,643.6 798.12,655.1 798.3,658.9 798.5,659.5 799,660 799.5,660.5 800,660 800.5,660.7 801,659.6 801.5,653.5 802,648.8 802.5,648.6 803,649.8 803.5,656.9 804,658.1 804.5,659.3 805,660.1 805.5,659.8 806,658 806.5,652.4 807,657.6 807.5,660.6 808,653.7 808.5,646 809,645.3 809.5,646 810,653.7 810.5,659.8 811,658.2 811.5,660.2 812,659.4 812.5,659.8 813,658.8 813.5,659.6 814,654.9 814.5,660.1 815,644.6 815.5,626.9 816,625.9 816.5,630.8 817,654.6 817.5,660.3 818,660 818.5,656 819,657.6 819.5,659.8 820,660.6 820.5,657 821,656.8 821.5,652.4 822,652 822.5,652.4 823,656.8 823.5,659.3 824,658 824.5,655.8 825,660.4 825.5,658.2 826,658.6 826.5,660.5 827,660.9 827.5,654.6 828,659.7 828.5,657.7 829,660.7 829.5,660.8 830,660.3 830.5,660.6 831,652.9 831.5,636.9 832,635.1 832.5,636.9 833,652.9 833.5,659 834,659.7 834.5,660.5 835,658.5 835.5,648.3 836,643.8 836.5,643.7 837,646.6 837.5,657.4 838,659.3 838.5,658.7 839,655.9 839.5,650.5 840,650 840.5,650.5 841,655.9 841.5,660.7 842,660.3 842.5,659.4 843,659.8 843.5,657.5 844,644.7 844.5,642 845,642.6 845.5,652.1 846,657.8 846.5,660.9 847,658.5 847.5,659.3 848,659.8 848.5,658 849,660.7 849.5,656.1 850,643.5 850.5,639.5 851,639.4 851.5,641.9 852,652.2 852.5,648.2 853,640.7 853.5,640 854,640.7 854.5,648.5 855,659.5 855.5,658.5 856,660.2 856.5,658.8 856.8,658.3 857,655.9 857.04,656.2 857.19,642.7 857.31,626.1 857.4,613.5 857.5,602.3 857.52,600.5 857.7,591.2 858,589.4 858,589.4 858.3,591.2 858.48,600.5 858.5,602.3 858.6,613.5 858.69,626.1 858.81,642.7 858.96,656.2 859,658 859.2,660.9 859.5,660.3 860,660.2 860.5,656.9 861,648.9 861.5,648 862,648.9 862.5,656.9 863,659.8 863.5,659.7 864,660.5 864.5,660.4 865,659.9 865.5,660 866,660.5 866.5,657.7 867,645.5 867.5,643 868,643.5 868.5,652.6 869,660.8 869.5,660.1 870,659.1 870.5,658.8 871,659.7 871.5,650.3 872,646.8 872.5,646.9 873,652.2 873.5,660.5 874,660.6 874.5,659.8 875,659.6 875.5,660.8 876,659.5 876.5,657.3 877,655.1 877.5,655 878,656.5 878.5,658.7 879,660 879.5,660.1 880,659.5 880.5,659.1 881,660 881.5,659.6 882,660.7 882.5,660.3 883,660.4 883.5,659.7 884,658.6 884.5,660.8 885,659.6 885.5,658.3 886,648.1 886.5,646 887,646.4 887.5,654 888,660.8 888.5,653.9 889,608.4 889.5,604 890,623.2 890.5,660.2 891,660.4 891.5,658.3 892,661 892.5,659.6 893,660 893.5,660.4 894,660.2 894.5,660.6 895,660.2 895.5,655 896,632.9 896.5,628.3 897,629.3 897.5,645.7 898,660.6 898.5,660 899,660.7 899.5,660.1 900,654.5 900.5,647.7 901,647 901.5,647.7 902,654.5 902.5,659.7 903,659.8 903.5,654.2 904,646.9 904.5,643.5 905,643 905.5,643 906,643.8 906.5,648.1 907,655.7 907.5,659.3 908,659.6 908.5,654.8 909,652.2 909.5,652 910,652.2 910.5,654.8 911,659.6 911.5,659.9 912,660.4 912.5,659.8 913,660.9 913.5,659.9 914,659.8 914.5,659.2 915,660.1 915.5,659.5 916,660.1 916.5,660.2 917,660.4 917.5,660.5 918,660.1 918.5,660.9 919,660.8 919.5,659.3 920,660.2 920.5,660.2 921,658.8 921.5,660.4 922,660.6 922.5,659 923,660.5 923.5,659.6 924,659.1 924.5,660.7 925,660.8 925.5,660 926,660 926.5,655.7 927,652.3 927.5,652 928,652.3 928.5,655.7 929,660.4 929.5,660.4 930,660.8 930.5,651.5 931,640.9 931.5,640.7 932,647.9 932.5,660.6 933,660.2 933.5,659.7 934,660.8 934.5,660.7 934.8,660.7 935,657.5 935.04,655.4 935.19,639.8 935.31,620.5 935.4,605.9 935.5,592.8 935.52,590.7 935.7,579.9 936,577.8 936,577.8 936.3,579.9 936.48,590.7 936.5,592.8 936.6,605.9 936.69,620.5 936.81,639.8 936.96,655.4 937,657.5 937.2,660.1 937.5,660.7 938,660.5 938.5,660.7 939,660.4 939.5,660.4 940,660.9 940.5,660.6 941,660.2 941.5,660.9 942,660.6 942.5,659.6 943,660.6 943.5,660.1 944,657.2 944.5,655.6 945,655.5 945.5,655.6 946,657.2 946.5,660.1 947,660.8 947.5,660.6 948,660.7 948.5,660.8 949,660.3 949.5,660.3 950,660.3 950.5,660.3 951,660.8 951.5,660.8 952,660 952.5,660.3 953,659 953.5,660.6 954,660.7 954.5,660.2 955,661 955.5,660.1 956,659.7 956.5,660.3 957,660.9 957.5,660.9 958,660.8 958.5,660.3 959,660.8 959.5,660.1 960,660 960.5,661 961,659.5 961.5,660.5 962,660.6 962.5,660.4 963,660.3 963.5,661 964,659.6 964.5,659.3 965,659.5 965.5,660.4 966,659.2 966.5,660.5 967,660.8 967.5,659.6 968,660.6 968.5,660.6 969,660.9 969.5,659.2 970,660.7 970.5,660.6 971,651.5 971.5,641.5 972,640.6 972.5,641.5 973,651.5 973.5,660.6 974,660.1 974.5,659.7 975,660 975.5,659.2 976,660.5 976.5,661 977,660.4 977.5,660.3 978,660.5 978.5,660.2 979,660.7 979.5,660.5 980,659.7 980.5,660.7 981,660.3 981.5,660.5 982,659.9 982.5,660.6 983,659.4 983.5,656.4 984,656 984.5,656.4 985,659.4 985.5,659.4 986,660.6 986.5,660.7 987,660.4 987.5,660.3 988,660.4 988.5,660.9 989,660.5 989.5,659.9 990,660.1 990.5,659.9 991,658.7 991.5,660.7 992,660.5 992.5,660.3 993,660.9 993.5,660.3 994,656.4 994.5,648.3 995,647 995.5,647.3 996,652.5 996.5,659.6 997,658.2 997.5,649.6 998,647.3 998.5,647.4 999,651 999.5,659.4 1000,660.7 1000.5,660.9 1001,660.8 1001.5,660.3 1002,659.3 1002.5,659.8 1003,660.7 1003.5,660.3 1004,660.4 1004.5,660.1 1005,658.7 1005.5,641.5 1006,635.2 1006.5,635.4 1007,645 1007.5,660.1 1008,660.3 1008.5,659.4 1009,660.1 1009.5,660.2 1010,660.2 1010.5,660.5 1011,661 1011.5,659.9 1012,660.1 1012.5,660 1013,660 1013.5,660 1014,660.3 1014.5,660.6 1015,660.9 1015.5,657.8 1016,646.1 1016.5,643.7 1017,644.2 1017.5,652.9 1018,660.1 1018.5,660.9 1019,660.6 1019.5,659.6 1020,660.4 1020.5,660.3 1021,660.5 1021.5,660.6 1022,659.6 1022.5,656.8 1023,656.5 1023.5,656.8 1024,659.6 1024.5,660.4 1025,660 1025.5,660.4 1026,660.4 1026.5,660.7 1027,660.3 1027.5,660.9 1028,659.9 1028.5,660.7 1029,660.7 1029.5,660.1 1030,661 1030.5,660 1031,660 1031.5,660.1 1032,660.9 1032.5,660.7 1033,660.6 1033.5,660.5 1034,658.9 1034.5,659.7 1035,659.6 1035.5,659.8 1036,659.5 1036.5,660.8 1037,660.6 1037.5,659.9 1038,659.5 1038.5,660.4 1039,661 1039.5,660.5 1040,660.6 1040.5,660.4 1041,660.4 1041.5,660.2 1042,660.2 1042.5,660 1043,660.9 1043.5,660.3 1044,659.6 1044.5,660.4 1045,660.3 1045.5,660.6 1046,660.1 1046.5,660.3 1047,660.9 1047.5,660.9 1048,659.9 1048.5,660.7 1049,660.5 1049.5,659.8 1050,659.2 1050.5,659.8 1051,660.2 1051.5,660 1052,659.7 1052.5,660.6 1053,660.6 1053.5,660.9 1054,660.2 1054.5,660.7 1055,660.9 1055.5,660.6 1056,660.2 1056.5,659.4 1057,659.5 1057.5,660.8 1058,660.8 1058.5,658.9 1059,659.7 1059.5,657.3 1060,657 1060.5,657.3 1061,659.7 1061.5,660.6 1062,659.8 1062.5,660.5 1063,660.9 1063.5,659.7 1064,660.2 1064.5,660.9 1065,659.9 1065.5,659.9 1066,660.3 1066.5,659.7 1067,660.4 1067.5,660.1 1068,659.6 1068.5,656.8 1069,656.5 1069.5,656.8 1070,659.6 1070.5,660 1071,660.7 1071.5,660.8 1072,660.4 1072.5,660.1 1073,660 1073.5,660.6 1074,660.5 1074.5,659.9 1075,658.8 1075.5,659.9 1076,660.8 1076.5,659.6 1077,660.6 1077.5,660.3 1078,661 1078.5,660 1079,661 1079.5,658.9 1080,660.4 1080.5,659.6 1081,659.7 1081.5,657.3 1082,657 1082.5,657.3 1083,659.7 1083.5,660.4 1084,661 1084.5,660.7 1085,659.7 1085.5,660.8 1086,660.1 1086.5,660.1 1087,660.9 1087.5,660.4 1088,660.2 1088.5,659.8 1089,659.5 1089.5,660.7 1090,660.8 1090.5,659.7 1091,659.6 1091.5,659.6 1092,658.9 1092.5,660.8 1093,658.1 1093.5,660.3 1094,660.9 1094.5,661 1095,660.9 1095.5,659.8 1096,660.7 1096.5,660.1 1097,660.5 1097.5,660.7 1098,660.6 1098.5,660.9 1098.9,663.4" fill="#000" stroke="#000" stroke-width="2.2" stroke-linejoin="round"/>
<polyline points="1174,659.5 1175,658.4 1175.9,659.2 1176.8,659.6 1177.7,659.4 1178.6,659.4 1179.5,659.7 1180.4,659.3 1181.3,659.7 1182.2,658.7 1183.1,659.6 1184,659.7 1184.9,658.5 1185.8,659 1186.7,659.8 1187.6,659.5 1188.5,659.7 1189.4,658.6 1190.3,659.5 1191.2,659.5 1192.1,659.7 1193,659.3 1193.9,659.1 1194.8,659.6 1195.7,658.7 1198.25,645.8 1198.75,645.8 1200.08,657.9 1201.48,654.3 1201.88,654.3 1203.3,657.9 1205.26,650.9 1205.66,650.9 1206.99,656.9 1208.16,648.8 1208.56,648.8 1210.08,658.2 1211.85,641.7 1212.35,641.7 1213.83,655.9 1215.9,638.3 1216.3,638.3 1218.08,655.4 1219.35,631.5 1219.85,631.5 1221.89,654.2 1224.45,624.7 1224.95,624.7 1227.49,656.1 1229.55,623 1230.05,623 1232.12,655.2 1233.95,616.2 1234.45,616.2 1236.5,654.3 1238.05,620.6 1238.55,620.6 1239.56,657.2 1241.08,619.1 1241.48,619.1 1242.52,651.2 1242.85,614.8 1243.45,583.8 1243.95,583.8 1244.55,614.8 1245.84,651.5 1246.65,618 1247.25,585.5 1247.75,585.5 1248.35,619.9 1248.91,649.2 1249.75,594.5 1250.35,553.2 1250.85,553.2 1251.45,592.8 1252.12,653.2 1252.75,589.9 1253.35,536.2 1253.85,536.2 1254.45,582.1 1255.33,652.1 1256.55,583.3 1257.15,527.7 1257.65,527.7 1258.25,588.1 1258.74,648 1259.99,592.7 1260.39,592.7 1261.31,649.7 1261.95,586.9 1262.55,532.8 1263.05,532.8 1263.65,593.4 1264.16,644.1 1265.52,605 1265.92,605 1267.53,644.8 1268.05,605.3 1268.65,573.6 1269.15,573.6 1269.75,611.9 1270.14,645.8 1270.45,602.7 1271.05,555.9 1271.55,555.9 1272.15,601.7 1273.01,648.3 1274.37,598.8 1274.77,598.8 1275.92,647.2 1276.55,608.3 1277.15,571.9 1277.65,571.9 1278.25,613.9 1279.61,644.2 1280.65,592.1 1281.25,543 1281.75,543 1282.35,594.7 1283.12,647.6 1284.23,603.5 1284.63,603.5 1286.19,650.7 1287.77,602.7 1288.17,602.7 1289.45,639.9 1290.25,562.8 1290.85,477.6 1291.35,477.6 1291.95,548.5 1292.97,638.3 1294.56,572.1 1294.96,572.1 1296.59,629.4 1298.44,580.8 1298.84,580.8 1300.28,640.6 1301.45,562.3 1302.05,500.4 1302.55,500.4 1303.15,561.2 1304.01,652 1305.74,586.5 1306.14,586.5 1307.46,633 1308.91,595.6 1309.31,595.6 1310.42,642.5 1311.35,564.1 1311.95,500.4 1312.45,500.4 1313.05,574.5 1313.4,643.7 1314.75,563.2 1315.15,563.2 1316.51,639.1 1317.45,610.1 1318.05,566.8 1318.55,566.8 1319.15,605.5 1319.56,642.6 1321,565.7 1321.4,565.7 1322.95,634.1 1323.55,519.7 1324.15,427.9 1324.65,427.9 1325.25,537.1 1326.63,624.3 1328.35,568.2 1328.95,485.1 1329.45,485.1 1330.05,568.9 1330.97,633.9 1332.25,571.2 1332.65,571.2 1333.94,634.2 1334.45,573.4 1335.05,514 1335.55,514 1336.15,583.7 1337.35,625.3 1339.25,585 1339.65,585 1341.73,631.1 1342.95,578.9 1343.55,514 1344.05,514 1344.65,577.1 1345.66,627.3 1347.16,563.5 1347.56,563.5 1348.81,638.9 1349.75,544.3 1350.35,442.6 1350.85,442.6 1351.45,530.5 1352.35,637.7 1352.85,543.7 1353.45,456.2 1353.95,456.2 1354.55,540.8 1355.49,630.5 1355.95,555.2 1356.55,488.5 1357.05,488.5 1357.65,561 1358.6,652.1 1359.96,574.8 1360.36,574.8 1361.78,634.7 1363.1,547 1363.5,547 1364.62,646.6 1365.45,545.4 1366.05,480 1366.55,480 1367.15,559.4 1367.77,627.1 1369.25,548.9 1369.65,548.9 1371.23,626.8 1371.95,553.6 1372.55,489.2 1373.05,489.2 1373.65,558.4 1374.44,649.2 1376.11,544.5 1376.51,544.5 1378.28,648.5 1379.72,564.6 1380.12,564.6 1381.32,638.3 1382.15,562.3 1382.75,481.7 1383.25,481.7 1383.85,560.8 1384.88,640.9 1385.85,554.1 1386.45,475.6 1386.95,475.6 1387.55,555 1388.29,640.2 1388.95,568.4 1389.55,488.5 1390.05,488.5 1390.65,559.5 1392.73,640.1 1394.05,581.1 1394.65,536.2 1395.15,536.2 1395.75,580.8 1397.07,630.7 1399.26,573.2 1399.66,573.2 1401.51,629.6 1402.55,584.2 1403.15,515.7 1403.65,515.7 1404.25,578.9 1405.26,639.8 1406.51,548.5 1406.91,548.5 1408.34,646.5 1409.35,556.2 1409.95,477.3 1410.45,477.3 1411.05,545.6 1411.51,651.2 1413.06,564.7 1413.46,564.7 1415.33,645 1416.15,554 1416.75,475.6 1417.25,475.6 1417.85,560.5 1418.71,643.9 1419.79,573 1420.19,573 1421.44,649.5 1421.95,530.3 1422.55,440.9 1423.05,440.9 1423.65,529.9 1424.06,650.4 1425.47,598.8 1425.87,598.8 1427.33,645 1428.77,584.6 1429.17,584.6 1430.47,650.4 1430.85,587.6 1431.45,529.4 1431.95,529.4 1432.55,591.6 1433.11,649.8 1434.45,600.2 1434.85,600.2 1435.91,652.2 1436.55,561 1437.15,496 1437.65,496 1438.25,555.7 1439.14,656.3 1440.59,629.9 1440.99,629.9 1442,658.1 1443.47,625.3 1443.87,625.3 1445.27,656 1446.15,595.1 1446.75,551.5 1447.25,551.5 1447.85,596.7 1448.43,656 1449.75,625.9 1450.15,625.9 1451.55,649.6 1451.95,574.6 1452.55,518.5 1453.05,518.5 1453.65,570.4 1454.42,649.8 1455.69,629.5 1456.09,629.5 1457.37,648.5 1457.65,591.6 1458.25,529.4 1458.75,529.4 1459.35,587.6 1460.99,653.1 1462.85,530.4 1463.45,455.2 1463.95,455.2 1464.55,548.8 1465.2,649.4 1466.61,628.5 1467.01,628.5 1468.57,651.4 1469.65,557.9 1470.25,496.3 1470.75,496.3 1471.35,569.8 1472.87,653.1 1474.44,635.3 1474.84,635.3 1476.58,654.3 1478.15,551.3 1478.75,454.5 1479.25,454.5 1479.85,547.7 1481.41,654.5 1482.55,626.6 1483.15,596.8 1483.65,596.8 1484.25,622.1 1485.81,657.1 1486.95,627.8 1487.55,600.2 1488.05,600.2 1488.65,624.5 1489.48,656.7 1491.44,645.3 1491.84,645.3 1493.73,658.6 1495.05,632.2 1495.55,632.2 1496.83,653.8 1498.49,647.3 1498.89,647.3 1500.31,655.1 1501.99,648.5 1502.39,648.5 1503.59,655.1 1504.35,558.5 1504.95,485.1 1505.45,485.1 1506.05,559.6 1507.46,656.3 1509.11,644.7 1509.51,644.7 1511.12,654 1512.55,538.7 1513.15,470.5 1513.65,470.5 1514.25,546.3 1514.94,654.1 1515.95,613.4 1516.55,582.1 1517.05,582.1 1517.65,612.3 1518.46,656.8 1520.4,649.1 1520.8,649.1 1522.39,656.8 1524.16,653 1524.56,653 1526.34,656 1528.3,653.9 1528.7,653.9 1530.92,658.3 1533.15,641 1533.65,641 1535.48,659.8 1537.05,588.4 1537.65,527.7 1538.15,527.7 1538.75,584.8 1539.4,659 1540.4,659.6 1541.4,659.6 1542.4,659 1543.4,659.2 1544.4,658.9 1545.6,659 1546.85,649.5 1547.35,649.5 1548.6,659.6 1549.6,659 1550.6,659.8 1551.6,657.9 1552.6,659.4 1553.4,659.7 1554.05,522.5 1554.65,417 1555.15,417 1555.75,519.1 1556.4,658.6 1557.3,659 1558.2,659.3 1559.1,659 1560,658.8 1560.9,659.4 1561.8,659.1 1562.7,659.7 1563.6,659.3 1564.5,658.9 1565.4,659.3 1566.3,658.7 1567.2,659.6 1568.1,659.8 1569,659.5 1569.9,659.6 1570.8,659.3 1571.7,659.4 1572.6,659.6 1573.5,659.6 1574.4,658.6 1575.3,659.5 1576.2,659.2 1577.1,659.7 1578,659.7 1578.9,658.7 1579.8,658.5 1580.7,659.7 1581.6,659.5 1582.5,659.5 1583.4,659 1584.3,659.6 1585.2,659.1 1586.1,659.7 1587,659.2 1587.9,659.4 1588.8,659.8 1589.7,659.7 1590.6,659.5" fill="none" stroke="#000" stroke-width="2.9" stroke-linejoin="round"/>
<line x1="1172.3" y1="662.7" x2="1596.5" y2="663.4" stroke="#000" stroke-width="2.7"/>
<g filter="url(#sh)" stroke="#4c4c4c" stroke-width="4.8" fill="none" stroke-linecap="round"><path d="M796.2 493.1V581.5" stroke-linecap="butt"/><path d="M787 565.9L796.2 581.9L805.4 565.9"/></g>
<g filter="url(#sh)" stroke="#4c4c4c" stroke-width="4.8" fill="none" stroke-linecap="round"><path d="M1450.8 421.4V509.1" stroke-linecap="butt"/><path d="M1441.6 493.5L1450.8 509.5L1460 493.5"/></g>
</svg>
</body></html>
